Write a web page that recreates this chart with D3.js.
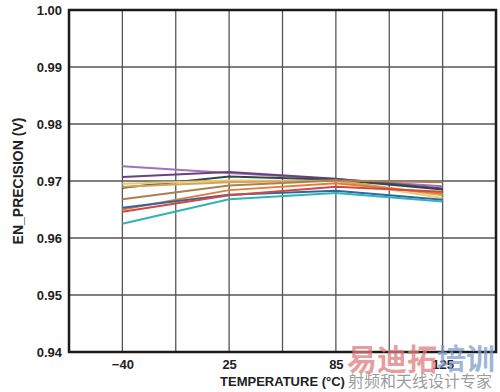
<!DOCTYPE html>
<html lang="en">
<head>
    <meta charset="UTF-8">
    <title>EN_PRECISION vs Temperature</title>
    <script src="https://d3js.org/d3.v7.min.js"></script>
    <style>
        body { margin: 0; background: #fff; }
        svg { display: block; font-family: "Liberation Sans", Arial, sans-serif; }
        .tick text { font-size: 13px; font-weight: bold; fill: #222; }
    </style>
</head>
<body>
<svg id="chart" width="500" height="392"></svg>
<script>
    const temps = ['\u221240', '25', '85', '125'];
    const yTicks = [0.94, 0.95, 0.96, 0.97, 0.98, 0.99, 1.00];

    // one curve per part
    const lightPurple = [0.9726, 0.9714, 0.9703, 0.9691];
    const darkPurple  = [0.9707, 0.9716, 0.9704, 0.9687];
    const darkGreen   = [0.9688, 0.9708, 0.9702, 0.9685];
    const yellow      = [0.9695, 0.9701, 0.9700, 0.9670];
    const tan         = [0.9690, 0.9698, 0.9701, 0.9675];
    const brown       = [0.9668, 0.9692, 0.9701, 0.9698];
    const orange      = [0.9650, 0.9684, 0.9696, 0.9678];
    const blue        = [0.9653, 0.9676, 0.9683, 0.9667];
    const red         = [0.9646, 0.9675, 0.9690, 0.9681];
    const teal        = [0.9625, 0.9668, 0.9679, 0.9664];

    const series = [
        { values: lightPurple, color: '#a272bd' },
        { values: darkPurple,  color: '#6c3f80' },
        { values: darkGreen,   color: '#2f4b47' },
        { values: yellow,      color: '#ecc872' },
        { values: tan,         color: '#d2a55e' },
        { values: brown,       color: '#a88250' },
        { values: orange,      color: '#e87a36' },
        { values: blue,        color: '#2c68a4' },
        { values: red,         color: '#cf4a40' },
        { values: teal,        color: '#2fb2b8' }
    ];

    const margin = { left: 69, right: 4, top: 10, bottom: 40 };
    const width = 500, height = 392;
    const svg = d3.select('#chart');

    const x = d3.scalePoint()
        .domain(temps)
        .range([margin.left, width - margin.right])
        .padding(0.5);

    const y = d3.scaleLinear()
        .domain([0.94, 1.00])
        .range([height - margin.bottom, margin.top]);

    // grid: verticals every half step
    const step = x.step();
    const vLines = d3.range(1, 8).map(i => margin.left + i * step / 2);
    svg.append('g').selectAll('line').data(vLines).join('line')
        .attr('x1', d => d).attr('x2', d => d)
        .attr('y1', margin.top).attr('y2', height - margin.bottom)
        .attr('stroke', '#555').attr('stroke-width', 1.3);

    svg.append('g').selectAll('line').data(yTicks.slice(1, -1)).join('line')
        .attr('x1', margin.left).attr('x2', width - margin.right)
        .attr('y1', d => y(d)).attr('y2', d => y(d))
        .attr('stroke', '#555').attr('stroke-width', 1.3);

    const line = d3.line()
        .x((d, i) => x(temps[i]))
        .y(d => y(d));

    svg.append('g').selectAll('path').data(series).join('path')
        .attr('d', d => line(d.values))
        .attr('fill', 'none')
        .attr('stroke', d => d.color)
        .attr('stroke-width', 2);

    // frame
    svg.append('rect')
        .attr('x', margin.left).attr('y', margin.top)
        .attr('width', width - margin.left - margin.right)
        .attr('height', height - margin.top - margin.bottom)
        .attr('fill', 'none').attr('stroke', '#1a1a1a').attr('stroke-width', 2.5);

    const yAxis = svg.append('g')
        .attr('transform', `translate(${margin.left},0)`)
        .call(d3.axisLeft(y).tickValues(yTicks).tickFormat(d3.format('.2f')).tickSize(0).tickPadding(7));
    yAxis.select('.domain').remove();

    const xAxis = svg.append('g')
        .attr('transform', `translate(0,${height - margin.bottom})`)
        .call(d3.axisBottom(x).tickSize(0).tickPadding(8));
    xAxis.select('.domain').remove();

    svg.append('text')
        .attr('x', (margin.left + width - margin.right) / 2)
        .attr('y', 386)
        .attr('text-anchor', 'middle')
        .attr('font-size', 13).attr('font-weight', 'bold').attr('fill', '#222')
        .text('TEMPERATURE (\u00B0C)');

    svg.append('text')
        .attr('transform', `translate(23,${(margin.top + height - margin.bottom) / 2}) rotate(-90)`)
        .attr('text-anchor', 'middle')
        .attr('font-size', 14).attr('font-weight', 'bold').attr('fill', '#222')
        .text('EN_PRECISION (V)');

    // watermark
    const wm = svg.append('g').attr('font-family', '"Noto Sans CJK SC", sans-serif');
    wm.append('text')
        .attr('x', 347).attr('y', 370)
        .attr('font-size', 30).attr('font-weight', 'bold')
        .attr('fill', '#e07d7d').attr('fill-opacity', 0.75)
        .text('易迪拓');
    wm.append('text')
        .attr('x', 437).attr('y', 370)
        .attr('font-size', 29).attr('font-weight', 'bold')
        .attr('fill', '#7f9fc9').attr('fill-opacity', 0.75)
        .text('培训');
    wm.append('text')
        .attr('x', 348).attr('y', 387)
        .attr('font-size', 16)
        .attr('fill', '#8a8a8a').attr('fill-opacity', 0.85)
        .text('射频和天线设计专家');
</script>
</body>
</html>
